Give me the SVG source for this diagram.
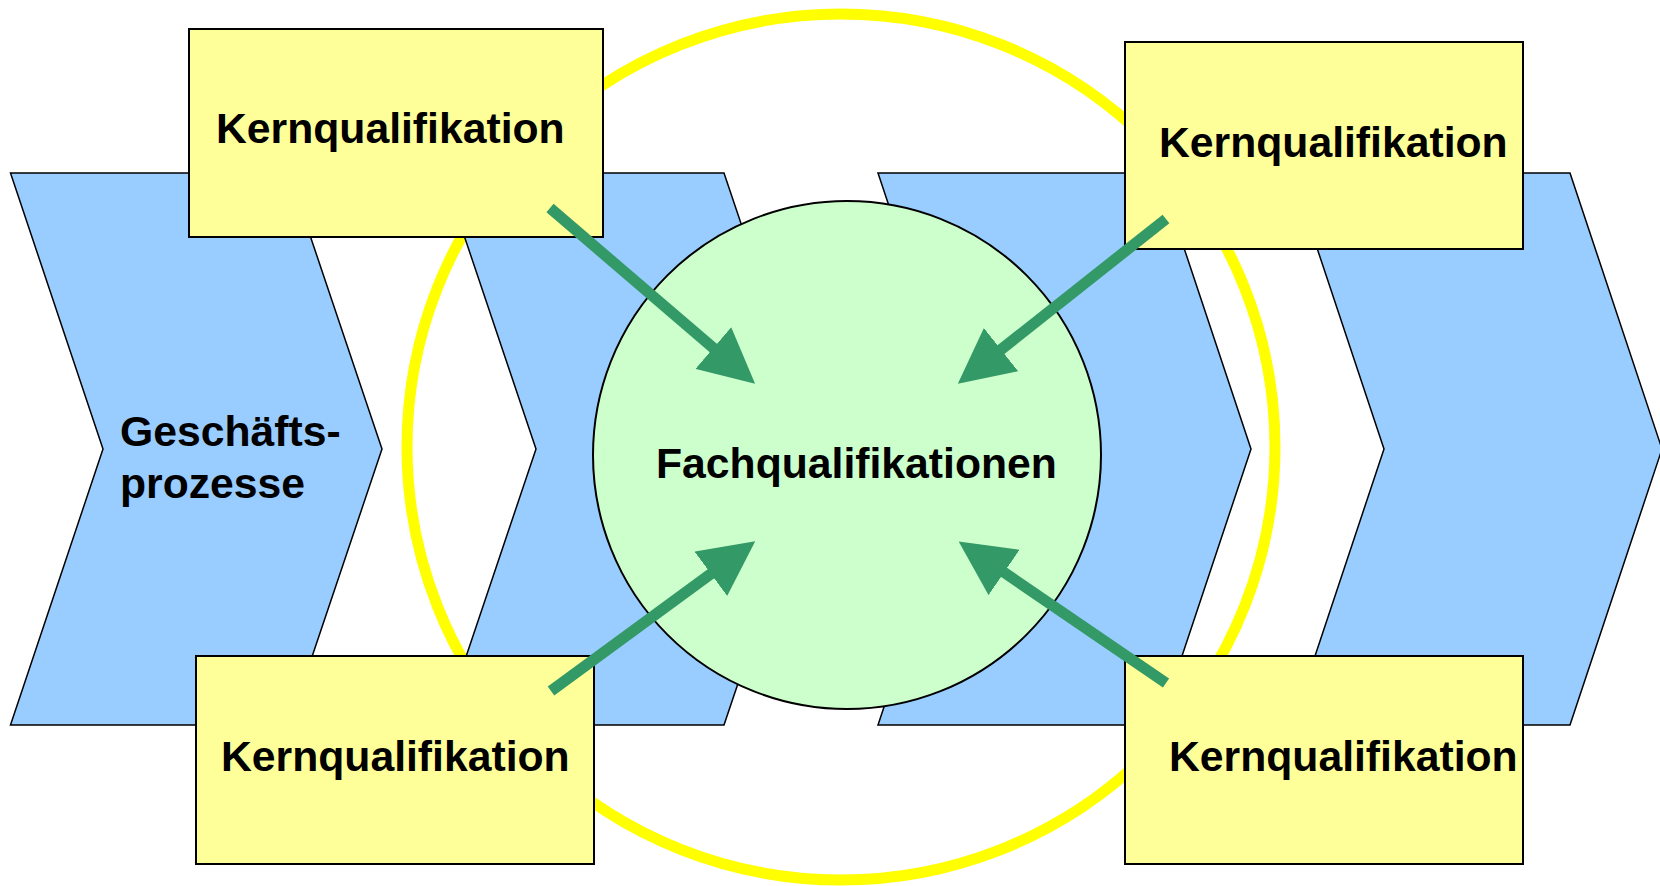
<svg xmlns="http://www.w3.org/2000/svg" width="1660" height="886" viewBox="0 0 1660 886">
<style>
.chev{fill:#99CCFF;stroke:#000;stroke-width:1.5;stroke-linejoin:miter}
.box{fill:#FFFF99;stroke:#000;stroke-width:2}
.lbl{font-family:"Liberation Sans",Arial,sans-serif;font-weight:bold;font-size:42.7px;fill:#000}
.arr{stroke:#339966;stroke-width:11;fill:none;marker-end:url(#head)}
</style>
<defs>
<marker id="head" viewBox="0 0 5 5" markerWidth="5" markerHeight="5" refX="2.2" refY="2.5" orient="auto" markerUnits="strokeWidth">
<path d="M0,0 L5,2.5 L0,5 z" fill="#339966"/>
</marker>
</defs>
<rect width="1660" height="886" fill="#fff"/>
<g id="ring">
<ellipse cx="841" cy="447" rx="434" ry="433" fill="none" stroke="#FFFF00" stroke-width="11"/>
</g>
<g id="prozesse">
<polygon class="chev" points="10.5,173 289,173 382,449 289,725 10.5,725 103,449"/>
<polygon class="chev" points="443,173 724,173 817,449 724,725 443,725 536,449"/>
<polygon class="chev" points="878,173 1159,173 1251,449 1159,725 878,725 970,449"/>
<polygon class="chev" points="1292,173 1570,173 1662,449 1570,725 1292,725 1384,449"/>
<text class="lbl" x="120" y="446">Geschäfts-</text>
<text class="lbl" x="120" y="498">prozesse</text>
</g>
<g id="fach">
<circle cx="847" cy="455" r="254" fill="#CCFFCC" stroke="#000" stroke-width="2"/>
<text class="lbl" x="656" y="478">Fachqualifikationen</text>
</g>
<g id="kern1">
<rect class="box" x="189" y="29" width="414" height="208"/>
<text class="lbl" x="216" y="143">Kernqualifikation</text>
</g>
<g id="kern2">
<rect class="box" x="1125" y="42" width="398" height="207"/>
<text class="lbl" x="1159" y="157">Kernqualifikation</text>
</g>
<g id="kern3">
<rect class="box" x="196" y="656" width="398" height="208"/>
<text class="lbl" x="221" y="771">Kernqualifikation</text>
</g>
<g id="kern4">
<rect class="box" x="1125" y="656" width="398" height="208"/>
<text class="lbl" x="1169" y="771">Kernqualifikation</text>
</g>
<g id="connectors">
<line class="arr" x1="550" y1="208" x2="731.7" y2="363.8"/>
<line class="arr" x1="1166" y1="219" x2="982" y2="364.6"/>
<line class="arr" x1="551" y1="691" x2="730.4" y2="559.5"/>
<line class="arr" x1="1166" y1="683" x2="984.1" y2="558.8"/>
</g>
</svg>
